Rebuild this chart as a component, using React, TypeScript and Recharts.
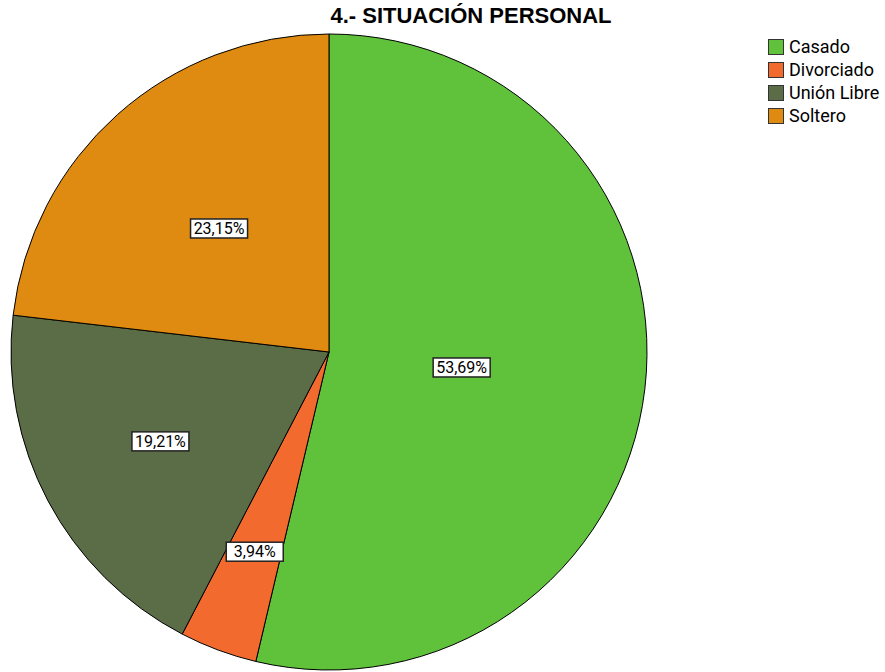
import { Cell, Legend, Pie, PieChart } from "recharts";

const categories = ["Casado", "Divorciado", "Unión Libre", "Soltero"];
const percentages = [53.69, 3.94, 19.21, 23.15];
const sliceColors = ["#5fc23a", "#f26a2d", "#5b6d47", "#df8a11"];
// how far out each label sits, as a share of the radius
const labelRadius = [0.42, 0.67, 0.6, 0.52];

const data = categories.map((name, i) => ({ name, value: percentages[i] }));

const RADIAN = Math.PI / 180;
const FONT = "Roboto, 'Liberation Sans', Arial, sans-serif";

function SliceLabel(props: any) {
  const { cx, cy, midAngle, outerRadius, index, value } = props;
  const r = outerRadius * labelRadius[index];
  const x = cx + r * Math.cos(-midAngle * RADIAN);
  const y = cy + r * Math.sin(-midAngle * RADIAN);
  const text = value.toFixed(2).replace(".", ",") + "%";
  const w = 57;
  const h = 19;
  return (
    <g>
      <rect x={x - w / 2} y={y - h / 2} width={w} height={h} fill="#fff" stroke="#222" strokeWidth={1.5} />
      <text x={x} y={y + 5.5} textAnchor="middle" fontSize={16} fontFamily={FONT} fill="#000">
        {text}
      </text>
    </g>
  );
}

function LegendBox() {
  return (
    <div style={{ fontFamily: FONT, fontSize: 18, color: "#000" }}>
      {categories.map((name, i) => (
        <div key={name} style={{ display: "flex", alignItems: "center", height: 23 }}>
          <span
            style={{
              display: "inline-block",
              width: 14,
              height: 14,
              background: sliceColors[i],
              border: "1.5px solid #333",
              marginRight: 5,
            }}
          />
          {name}
        </div>
      ))}
    </div>
  );
}

export default function App() {
  return (
    <div style={{ position: "absolute", left: 0, top: 0, width: 885, height: 672, background: "#fff" }}>
      <div
        style={{
          position: "absolute",
          left: 0,
          top: 3,
          width: 942,
          textAlign: "center",
          fontFamily: "'Liberation Sans', Arial, sans-serif",
          fontWeight: "bold",
          fontSize: 22,
          zIndex: 2,
        }}
      >
        4.- SITUACIÓN PERSONAL
      </div>
      <PieChart width={885} height={672} margin={{ top: 0, right: 0, bottom: 0, left: 0 }}>
        <Pie
          data={data}
          dataKey="value"
          nameKey="name"
          cx={329}
          cy={352}
          outerRadius={318}
          startAngle={90}
          endAngle={-270}
          stroke="#000"
          strokeWidth={1}
          label={SliceLabel}
          labelLine={false}
          isAnimationActive={false}
        >
          {data.map((d, i) => (
            <Cell key={d.name} fill={sliceColors[i]} />
          ))}
        </Pie>
        <Legend
          content={<LegendBox />}
          wrapperStyle={{ position: "absolute", left: 768, top: 35, width: 117 }}
        />
      </PieChart>
    </div>
  );
}
